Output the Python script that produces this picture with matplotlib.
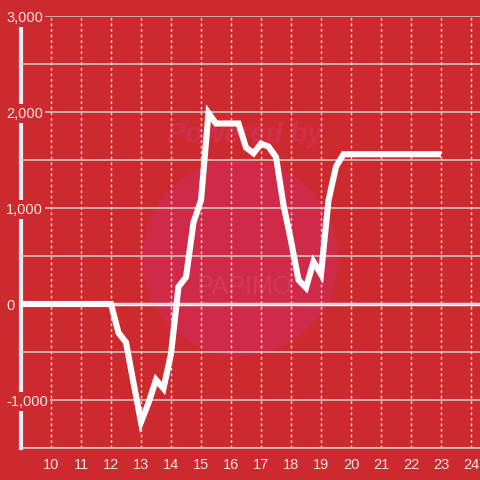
import matplotlib
matplotlib.use("Agg")
import matplotlib.pyplot as plt
from matplotlib.patches import Circle
from matplotlib.ticker import MultipleLocator, FuncFormatter

plt.rcParams["font.family"] = ["Liberation Sans", "DejaVu Sans"]

RED = "#cd2a2f"
PALE = "#f3e4e4"

hours = [9.0, 12.0, 12.25, 12.5, 12.75, 13.0, 13.25, 13.5, 13.75, 14.0,
         14.25, 14.5, 14.75, 15.0, 15.25, 15.5, 15.75, 16.0, 16.25, 16.5,
         16.75, 17.0, 17.25, 17.5, 17.75, 18.0, 18.25, 18.5, 18.75, 19.0,
         19.25, 19.5, 19.75, 23.0]
values = [0, 0, -300, -400, -820, -1230, -1030, -790, -880, -520,
          180, 280, 850, 1080, 1990, 1880, 1880, 1880, 1880, 1630,
          1570, 1670, 1640, 1530, 1030, 660, 250, 170, 440, 310,
          1080, 1430, 1560, 1560]
x_ticks = list(range(10, 25))
y_ticks = [-1000, 0, 1000, 2000, 3000]


def main():
    fig = plt.figure(figsize=(4.8, 4.8), dpi=100, facecolor=RED)
    ax = fig.add_axes([21 / 480, 32 / 480, 459 / 480, 432 / 480])
    ax.set_facecolor(RED)
    ax.set_axisbelow(True)

    # faint watermark, behind everything in the axes
    ax.add_patch(Circle((240 / 480, 1 - 258 / 480), 98 / 480,
                        transform=fig.transFigure, facecolor="#cf2a48",
                        edgecolor="none", zorder=0.1, clip_on=False))
    ax.text(245 / 480, 1 - 135 / 480, "Powered by", color="#d1304a",
            fontsize=20, fontweight="bold", style="italic",
            ha="center", va="center", transform=fig.transFigure, zorder=0.2)
    ax.text(245 / 480, 1 - 287 / 480, "PAPIMO", color="#d43a58",
            fontsize=18, ha="center", va="center",
            transform=fig.transFigure, zorder=0.2)

    ax.plot(hours, values, color="white", lw=4.4, zorder=5,
            solid_joinstyle="miter", solid_capstyle="butt")
    ax.axhline(0, color="#f2f2f2", lw=2.5, zorder=2)

    ax.set_xlim(9, 24.3)
    ax.set_ylim(-1500, 3000)
    ax.set_xticks(x_ticks)
    ax.set_yticks(y_ticks)
    ax.yaxis.set_minor_locator(MultipleLocator(500))
    ax.yaxis.set_major_formatter(FuncFormatter(lambda v, p: f"{int(v):,}"))

    ax.grid(axis="y", which="both", color="#d0d0d0", lw=1.1, ls="-")
    ax.grid(axis="x", color="#f0e8e8", lw=1.0, ls=(0, (2, 2)))

    ax.tick_params(axis="both", which="both", length=0, colors=PALE,
                   labelsize=10.5)
    ax.tick_params(axis="y", pad=10.8)   # labels start ~15 px left of spine
    ax.tick_params(axis="x", pad=7)

    for side in ("top", "right"):
        ax.spines[side].set_visible(False)
    ax.spines["bottom"].set_color("#d0d0d0")
    ax.spines["bottom"].set_linewidth(1.1)
    ax.spines["left"].set_color("#f2f2f2")
    ax.spines["left"].set_linewidth(3)
    ax.spines["left"].set_zorder(3)

    # ticks are built lazily, so draw once before styling the labels
    fig.canvas.draw()
    for tick in ax.yaxis.get_major_ticks():
        tick.label1.set_horizontalalignment("left")
        tick.label1.set_bbox(dict(facecolor=RED, edgecolor="none", pad=1.5))
    # y labels sit on top of the spine and the zero line
    ax.yaxis.set_zorder(4)

    fig.savefig("out.png", dpi=100, facecolor=RED)
    plt.close(fig)


if __name__ == "__main__":
    main()
